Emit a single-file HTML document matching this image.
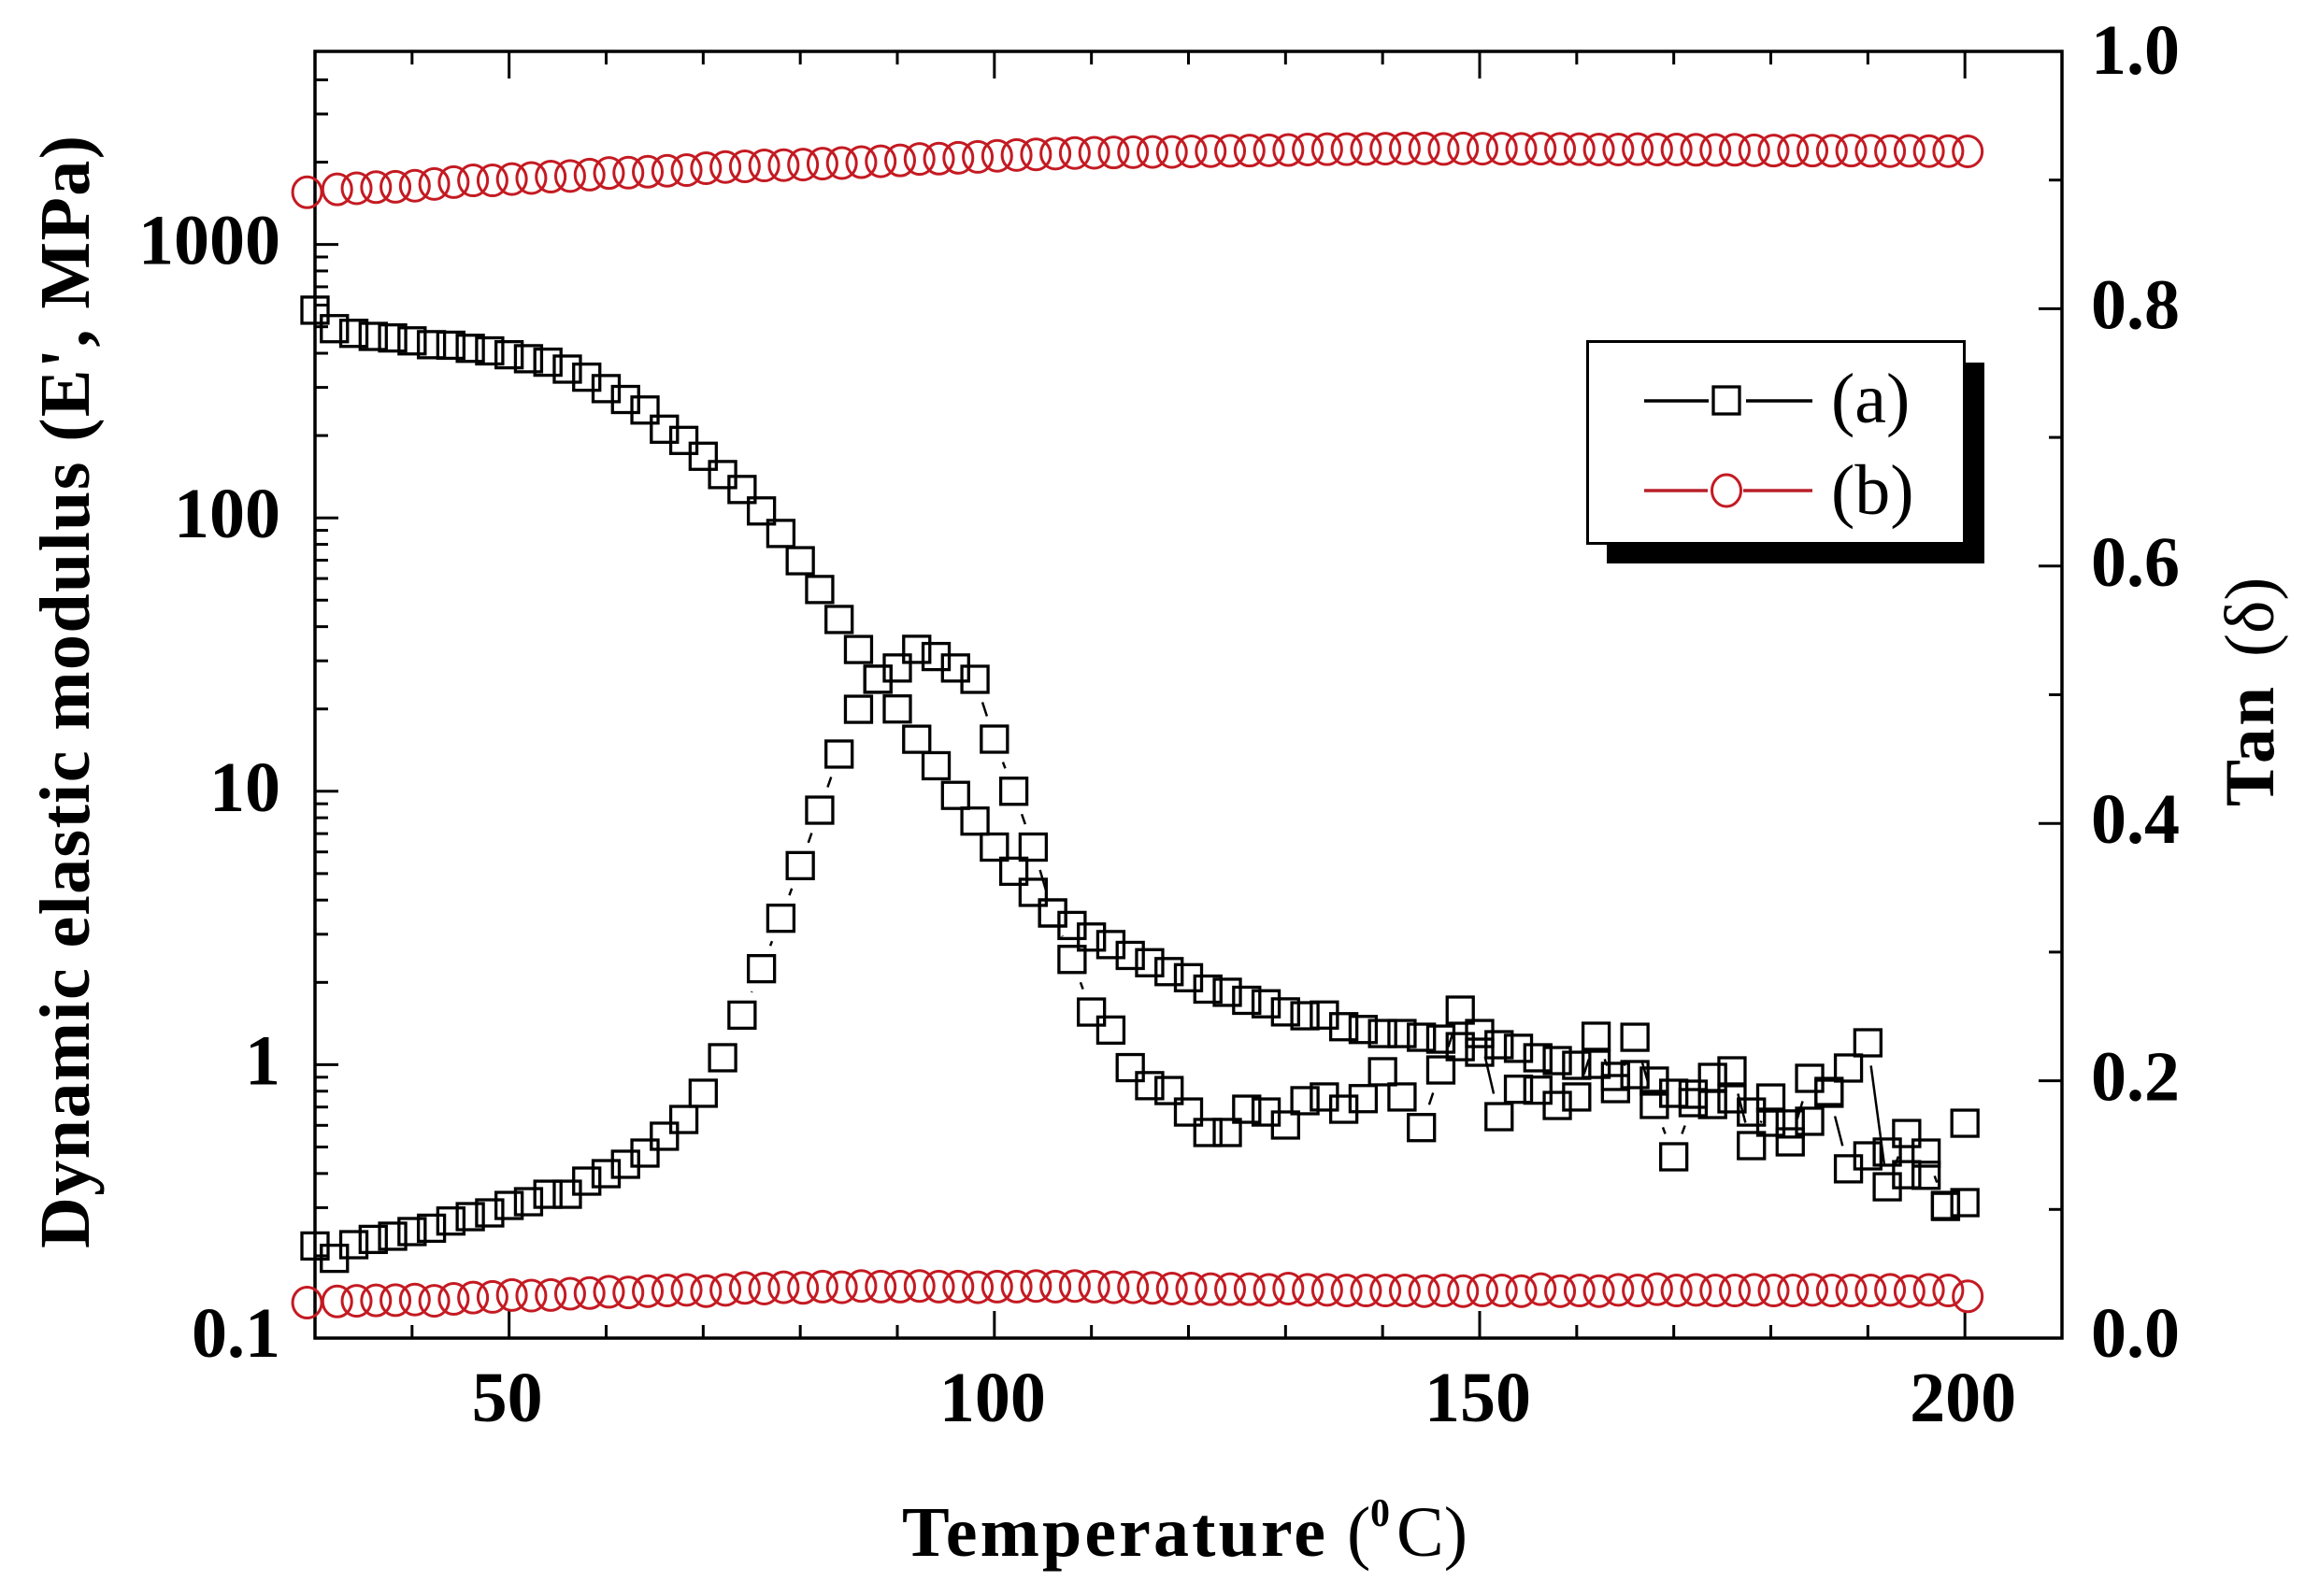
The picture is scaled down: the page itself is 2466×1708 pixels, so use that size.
<!DOCTYPE html>
<html lang="en">
<head>
<meta charset="utf-8">
<title>Dynamic elastic modulus and Tan delta vs temperature</title>
<style>
  html, body { margin: 0; padding: 0; background: #fff; }
  svg { display: block; }
  text { font-family: "Liberation Serif", serif; fill: #000; }
</style>
</head>
<body>
<svg id="chart" xmlns="http://www.w3.org/2000/svg" width="2466" height="1708" viewBox="0 0 2466 1708">
  <rect x="0" y="0" width="2466" height="1708" fill="#fff"/>
  <g id="ticks"></g>
  <g id="tick-labels"></g>
  <rect x="337" y="55" width="1869" height="1377" fill="none" stroke="#000" stroke-width="3.5"/>
  <g id="series"></g>

  <text transform="translate(95,1336) rotate(-90)" font-size="76" font-weight="bold" textLength="1191" lengthAdjust="spacing">Dynamic elastic modulus (E', MPa)</text>
  <text transform="translate(2432,863) rotate(-90)" font-size="75" font-weight="bold"><tspan x="0" textLength="128" lengthAdjust="spacing">Tan</tspan><tspan x="160" font-weight="normal">(δ)</tspan></text>
  <text y="1665" font-size="76" font-weight="bold"><tspan x="965" textLength="453" lengthAdjust="spacing">Temperature</tspan><tspan x="1441" font-weight="normal">(</tspan><tspan x="1466" y="1633" font-size="42">0</tspan><tspan x="1494" y="1665" font-weight="normal">C)</tspan></text>

  <g>
    <rect x="1719" y="388" width="404" height="215" fill="#000"/>
    <rect x="1698.5" y="365.5" width="403" height="216" fill="#fff" stroke="#000" stroke-width="3"/>
    <g>
      <line x1="1759" y1="429" x2="1828" y2="429" stroke="#000" stroke-width="3.5"/>
      <line x1="1868" y1="429" x2="1939" y2="429" stroke="#000" stroke-width="3.5"/>
      <rect x="1833" y="414" width="28" height="29" fill="none" stroke="#000" stroke-width="3.3"/>
      <text x="1959" y="452" font-size="76">(a)</text>
    </g>
    <g>
      <line x1="1759" y1="525" x2="1827" y2="525" stroke="#b8202a" stroke-width="3.5"/>
      <line x1="1865" y1="525" x2="1939" y2="525" stroke="#b8202a" stroke-width="3.5"/>
      <ellipse cx="1847" cy="525" rx="15.5" ry="17" fill="none" stroke="#c41a22" stroke-width="3"/>
      <text x="1959" y="550" font-size="76">(b)</text>
    </g>
  </g>
</svg>

<script>
const temperature = [30,32,34,36,38,40,42,44,46,48,50,52,54,56,58,60,62,64,66,68,70,72,74,76,78,80,82,84,86,88,90,92,94,96,98,100,102,104,106,108,110,112,114,116,118,120,122,124,126,128,130,132,134,136,138,140,142,144,146,148,150,152,154,156,158,160,162,164,166,168,170,172,174,176,178,180,182,184,186,188,190,192,194,196,198,200];
const temperatureB = [28.9,32,34,36,38,40,42,44,46,48,50,52,54,56,58,60,62,64,66,68,70,72,74,76,78,80,82,84,86,88,90,92,94,96,98,100,102,104,106,108,110,112,114,116,118,120,122,124,126,128,130,132,134,136,138,140,142,144,146,148,150,152,154,156,158,160,162,164,166,168,170,172,174,176,178,180,182,184,186,188,190,192,194,196,198,200];

const modulusA = [575,492,473,461,455,444,430,428,417,408,395,382,371,350,327,297,271,248,211,192,168,144,127,106,87.7,69.7,54.7,42.5,33,25.7,20,15.5,12.4,9.66,7.78,6.25,5.1,4.27,3.59,3.23,2.93,2.75,2.51,2.36,2.19,2.08,1.89,1.84,1.72,1.67,1.56,1.51,1.519,1.377,1.345,1.30,1.30,1.26,1.24,1.164,1.111,1.183,1.148,1.06,1.035,0.995,1.003,0.906,0.92,0.871,0.786,0.78,0.715,0.75,0.671,0.616,0.607,0.621,0.786,0.416,0.464,0.479,0.396,0.394,0.303,0.313];

const tanDeltaA = [0.0716,0.062,0.0726,0.0767,0.0792,0.0828,0.0854,0.091,0.0944,0.0973,0.1031,0.106,0.1118,0.1118,0.122,0.1278,0.1351,0.1438,0.1569,0.1699,0.1903,0.2179,0.251,0.2871,0.3263,0.3672,0.4103,0.4539,0.4887,0.512,0.5208,0.5353,0.5297,0.5208,0.512,0.4655,0.425,0.3816,0.3304,0.2943,0.2534,0.2394,0.2102,0.1962,0.1924,0.1757,0.1598,0.1598,0.1779,0.1757,0.1656,0.1845,0.1874,0.1779,0.1861,0.207,0.1874,0.1636,0.2084,0.2549,0.2367,0.1721,0.1934,0.1927,0.1808,0.1874,0.2346,0.1939,0.2338,0.1816,0.1409,0.183,0.2026,0.2077,0.1496,0.1866,0.1525,0.2019,0.1917,0.2099,0.2295,0.1176,0.159,0.1438,0.1031,0.167];

const modulusB = [1552,1590,1605,1620,1625,1640,1665,1690,1715,1715,1735,1750,1770,1780,1800,1825,1830,1845,1860,1870,1900,1920,1930,1945,1950,1960,1975,1985,2000,2015,2030,2055,2060,2075,2090,2110,2125,2135,2150,2160,2165,2170,2175,2180,2180,2190,2195,2200,2205,2210,2215,2225,2230,2230,2235,2240,2245,2245,2235,2245,2240,2240,2235,2240,2235,2230,2225,2225,2230,2225,2225,2220,2215,2220,2210,2205,2205,2205,2200,2205,2200,2195,2200,2195,2195,2190];

const tanDeltaB = [0.0276,0.0285,0.029,0.0293,0.0295,0.03,0.029,0.0305,0.0315,0.032,0.0335,0.033,0.0335,0.0345,0.035,0.036,0.0355,0.0365,0.037,0.0375,0.0365,0.0375,0.039,0.0385,0.0395,0.039,0.04,0.0395,0.0405,0.04,0.04,0.0405,0.04,0.04,0.0395,0.04,0.04,0.0405,0.04,0.0405,0.04,0.0395,0.0395,0.039,0.0385,0.0385,0.038,0.038,0.038,0.0375,0.0385,0.0375,0.0375,0.037,0.037,0.037,0.037,0.0365,0.037,0.0365,0.037,0.037,0.0365,0.038,0.0365,0.037,0.0365,0.0375,0.037,0.038,0.037,0.0375,0.037,0.037,0.0375,0.037,0.037,0.0375,0.037,0.037,0.037,0.0375,0.0365,0.0375,0.037,0.0325];

const xMajorTicks = [50,100,150,200];
const xMinorTicks = [40,60,70,80,90,110,120,130,140,160,170,180,190];
const yLeftMajorTicks = [0.1,1,10,100,1000];
const yLeftMinorTicks = [0.2,0.3,0.4,0.5,0.6,0.7,0.8,0.9,2,3,4,5,6,7,8,9,20,30,40,50,60,70,80,90,200,300,400,500,600,700,800,900,2000,3000,4000];
const yRightMajorTicks = [0,0.2,0.4,0.6,0.8,1];
const yRightMinorTicks = [0.1,0.3,0.5,0.7,0.9];
const xTickLabels = ["50","100","150","200"];
const yLeftTickLabels = ["0.1","1","10","100","1000"];
const yRightTickLabels = ["0.0","0.2","0.4","0.6","0.8","1.0"];

const NS = "http://www.w3.org/2000/svg";
const plotLeft = 337, plotRight = 2206, plotTop = 55, plotBottom = 1432;
const decade = 292.6;
const majorLenX = 29, minorLenX = 14, majorLenY = 25, minorLenY = 14;

function xAxis(t) { return plotLeft + (t - 30) * (plotRight - plotLeft) / 180; }
function yLog(v) { return plotBottom - (Math.log10(v) + 1) * decade; }
function yTan(v) { return plotBottom - v * (plotBottom - plotTop); }

const tickGroup = document.getElementById('ticks');
const labelGroup = document.getElementById('tick-labels');
const seriesGroup = document.getElementById('series');

function makeLine(x1, y1, x2, y2, color, width) {
  const l = document.createElementNS(NS, 'line');
  l.setAttribute('x1', x1);
  l.setAttribute('y1', y1);
  l.setAttribute('x2', x2);
  l.setAttribute('y2', y2);
  l.setAttribute('stroke', color);
  l.setAttribute('stroke-width', width);
  return l;
}

function makeLabel(x, y, anchor, content) {
  const t = document.createElementNS(NS, 'text');
  t.setAttribute('x', x);
  t.setAttribute('y', y);
  t.setAttribute('text-anchor', anchor);
  t.setAttribute('font-size', '76');
  t.setAttribute('font-weight', 'bold');
  t.textContent = content;
  return t;
}

xMajorTicks.forEach(function (v) {
  const a = makeLine(xAxis(v), plotBottom, xAxis(v), plotBottom - majorLenX, '#000', 3);
  
  
  tickGroup.appendChild(a);
  const b = makeLine(xAxis(v), plotTop, xAxis(v), plotTop + majorLenX, '#000', 3);
  
  
  tickGroup.appendChild(b);
});
xMinorTicks.forEach(function (v) {
  const a = makeLine(xAxis(v), plotBottom, xAxis(v), plotBottom - minorLenX, '#000', 3);
  
  
  tickGroup.appendChild(a);
  const b = makeLine(xAxis(v), plotTop, xAxis(v), plotTop + minorLenX, '#000', 3);
  
  
  tickGroup.appendChild(b);
});
yLeftMajorTicks.forEach(function (v) {
  const a = makeLine(plotLeft, yLog(v), plotLeft + majorLenY, yLog(v), '#000', 3);
  
  
  tickGroup.appendChild(a);
});
yLeftMinorTicks.forEach(function (v) {
  const a = makeLine(plotLeft, yLog(v), plotLeft + minorLenY, yLog(v), '#000', 3);
  
  
  tickGroup.appendChild(a);
});
yRightMajorTicks.forEach(function (v) {
  const a = makeLine(plotRight, yTan(v), plotRight - majorLenY, yTan(v), '#000', 3);
  
  
  tickGroup.appendChild(a);
});
yRightMinorTicks.forEach(function (v) {
  const a = makeLine(plotRight, yTan(v), plotRight - minorLenY, yTan(v), '#000', 3);
  
  
  tickGroup.appendChild(a);
});

xMajorTicks.forEach(function (v, i) {
  const t = makeLabel(xAxis(v) - 2, 1521, 'middle', xTickLabels[i]);
  
  
  labelGroup.appendChild(t);
});
yLeftMajorTicks.forEach(function (v, i) {
  const t = makeLabel(300, Math.min(yLog(v) + 21, 1452), 'end', yLeftTickLabels[i]);
  
  
  labelGroup.appendChild(t);
});
yRightMajorTicks.forEach(function (v, i) {
  const t = makeLabel(2237, Math.min(Math.max(yTan(v) + 21, 79), 1452), 'start', yRightTickLabels[i]);
  
  
  labelGroup.appendChild(t);
});

function drawSquares(temps, values, yScale, seriesName) {
  const g = document.createElementNS(NS, 'g');
  
  
  const trim = 24.5;
  for (let i = 0; i + 2 < values.length; i++) {
    const x1 = xAxis(temps[i]), y1 = yScale(values[i]);
    const x2 = xAxis(temps[i + 1]), y2 = yScale(values[i + 1]);
    const span = Math.max(Math.abs(x2 - x1), Math.abs(y2 - y1));
    if (span > 2 * trim) {
      const f = trim / span;
      const seg = makeLine(x1 + (x2 - x1) * f, y1 + (y2 - y1) * f, x2 - (x2 - x1) * f, y2 - (y2 - y1) * f, '#000', 2.5);
      
      
      g.appendChild(seg);
    }
  }
  values.forEach(function (v, i) {
    const r = document.createElementNS(NS, 'rect');
    r.setAttribute('x', xAxis(temps[i]) - 14);
    r.setAttribute('y', yScale(v) - 14);
    r.setAttribute('width', 28);
    r.setAttribute('height', 28);
    r.setAttribute('fill', 'none');
    r.setAttribute('stroke', '#000');
    r.setAttribute('stroke-width', 3.3);
    
    
    g.appendChild(r);
  });
  seriesGroup.appendChild(g);
}

function drawCircles(temps, values, yScale, seriesName) {
  const g = document.createElementNS(NS, 'g');
  
  
  values.forEach(function (v, i) {
    const c = document.createElementNS(NS, 'ellipse');
    c.setAttribute('cx', xAxis(temps[i]) + 3);
    c.setAttribute('cy', yScale(v));
    c.setAttribute('rx', 15.5);
    c.setAttribute('ry', 16.5);
    c.setAttribute('fill', 'none');
    c.setAttribute('stroke', '#c41a22');
    c.setAttribute('stroke-width', 3);
    
    
    g.appendChild(c);
  });
  seriesGroup.appendChild(g);
}

drawSquares(temperature, modulusA, yLog, 'series-a-modulus');
drawSquares(temperature, tanDeltaA, yTan, 'series-a-tan-delta');
drawCircles(temperatureB, modulusB, yLog, 'series-b-modulus');
drawCircles(temperatureB, tanDeltaB, yTan, 'series-b-tan-delta');
</script>
</body>
</html>
